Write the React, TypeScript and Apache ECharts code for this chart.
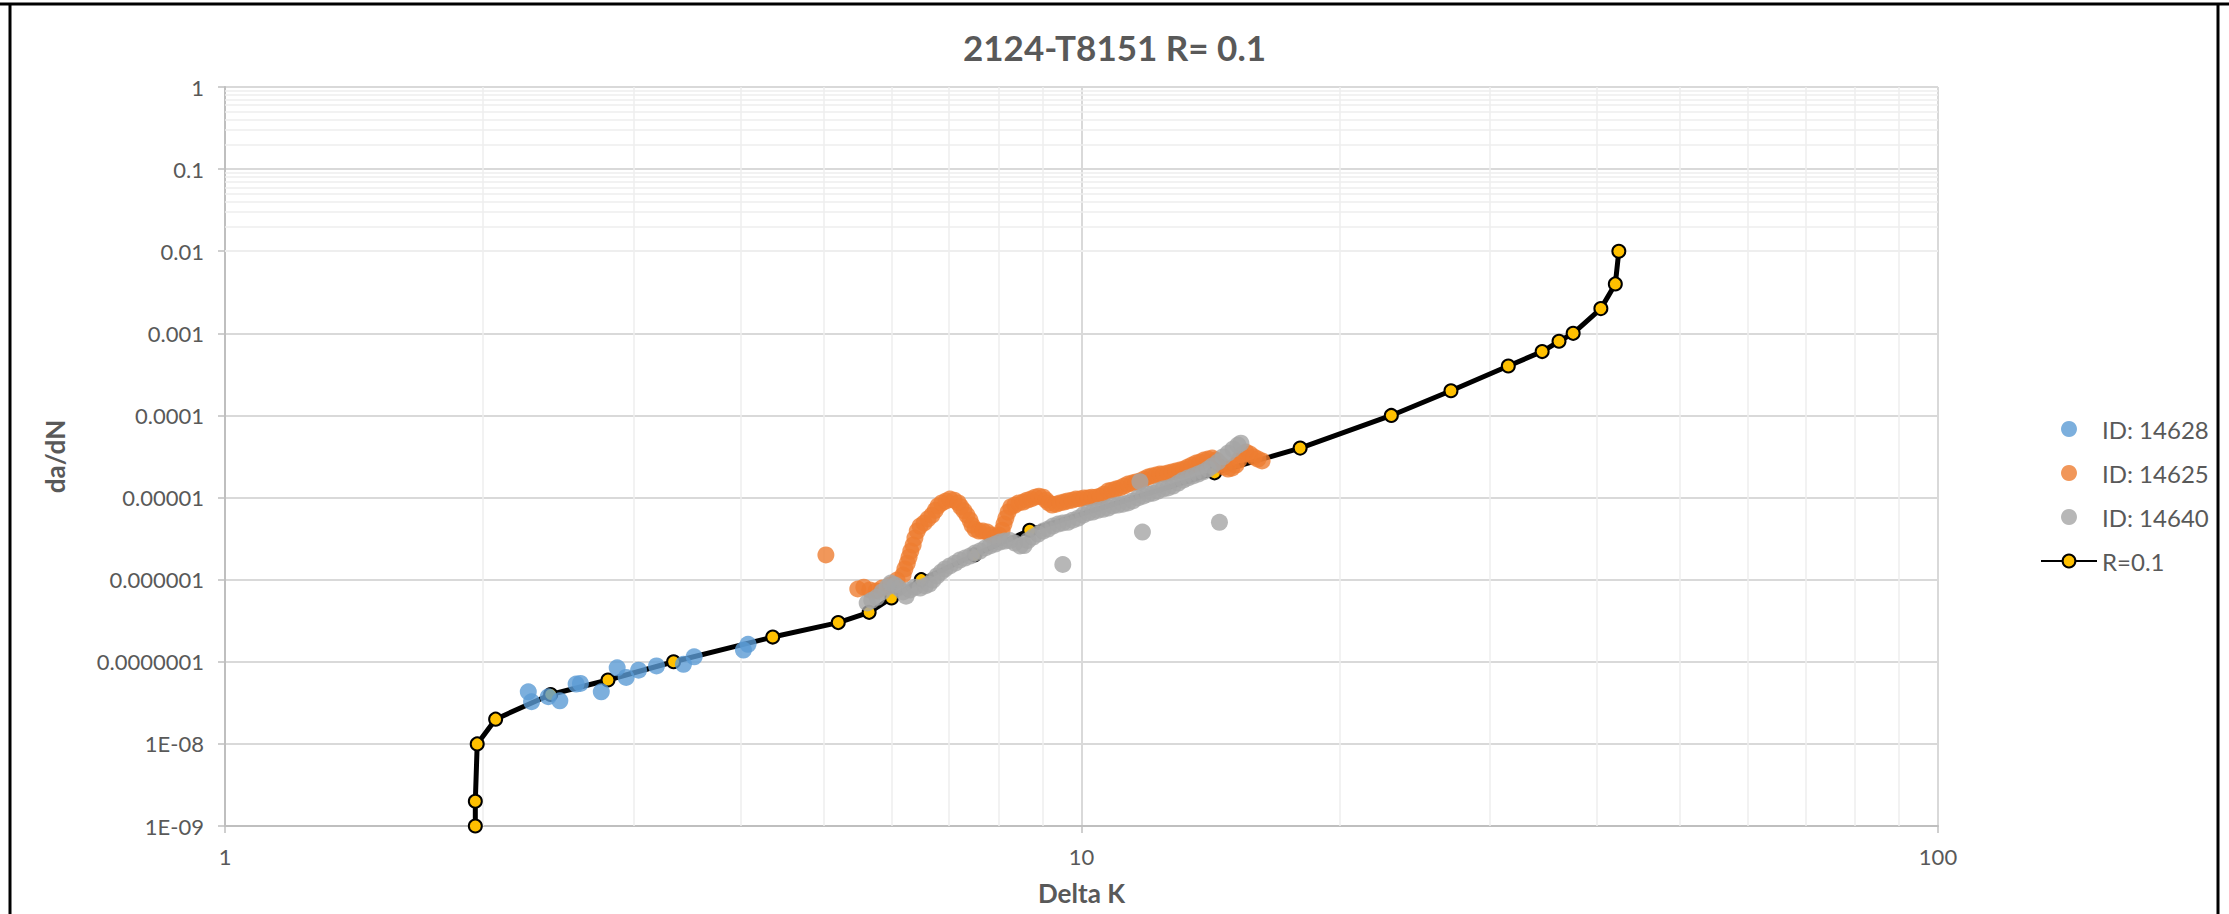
import React, { useEffect, useRef } from "react";
import * as echarts from "echarts";

const TITLE = "2124-T8151 R= 0.1";
const X_NAME = "Delta K";
const Y_NAME = "da/dN";
const Y_TICK_LABELS = ["1E-09", "1E-08", "0.0000001", "0.000001", "0.00001", "0.0001", "0.001", "0.01", "0.1", "1"];
const X_TICK_LABELS = ["1", "10", "100"];
const MINOR_MANTISSAS = [2, 3, 4, 5, 6, 7, 8, 9];
const X_DECADES = [1, 10];
const Y_DECADES = [1e-9, 1e-8, 1e-7, 1e-6, 1e-5, 1e-4, 1e-3, 1e-2, 1e-1];

const S_BLUE = "ID: 14628";
const S_ORANGE = "ID: 14625";
const S_GRAY = "ID: 14640";
const S_LINE = "R=0.1";

const blueData: [number, number][] = [
  [2.26, 4.3e-8], [2.28, 3.26e-8], [2.385, 3.75e-8], [2.46, 3.35e-8], [2.57, 5.35e-8],
  [2.6, 5.45e-8], [2.75, 4.3e-8], [2.87, 8.45e-8], [2.94, 6.45e-8], [3.04, 7.9e-8],
  [3.19, 8.9e-8], [3.43, 9.3e-8], [3.53, 1.15e-7], [4.03, 1.39e-7], [4.08, 1.63e-7],
];

const orangeData: [number, number][] = [
  [5.03, 2.0e-6],
  [5.48, 7.7e-7], [5.57, 8.1e-7], [5.66, 7.5e-7], [5.76, 7.3e-7], [5.85, 7.9e-7], [5.98, 8.6e-7],
  [6.09, 9.9e-7], [6.19, 1.14e-6], [6.22, 1.35e-6], [6.26, 1.59e-6], [6.29, 1.88e-6], [6.32, 2.23e-6],
  [6.36, 2.64e-6], [6.39, 3.21e-6], [6.43, 3.91e-6], [6.48, 4.5e-6], [6.55, 4.9e-6], [6.62, 5.5e-6],
  [6.69, 6.1e-6], [6.75, 7.0e-6], [6.8, 7.9e-6], [6.87, 8.6e-6], [6.95, 9.1e-6], [7.02, 9.6e-6],
  [7.1, 9.3e-6], [7.18, 8.6e-6], [7.23, 7.7e-6], [7.29, 6.9e-6], [7.35, 6.1e-6], [7.41, 5.3e-6],
  [7.45, 4.6e-6], [7.51, 4.1e-6], [7.59, 3.91e-6], [7.67, 3.91e-6], [7.76, 3.8e-6], [7.84, 3.5e-6],
  [7.93, 3.3e-6], [8.01, 3.5e-6], [8.08, 4.0e-6], [8.12, 4.75e-6], [8.16, 5.6e-6], [8.21, 6.65e-6],
  [8.27, 7.7e-6], [8.36, 8.1e-6], [8.45, 8.6e-6], [8.55, 8.8e-6], [8.64, 9.3e-6], [8.73, 9.6e-6],
  [8.83, 1.01e-5], [8.92, 1.04e-5], [9.02, 1.01e-5], [9.09, 9.3e-6], [9.16, 8.6e-6], [9.24, 8.1e-6],
  [9.34, 8.3e-6], [9.44, 8.6e-6], [9.54, 8.8e-6], [9.64, 9.1e-6], [9.75, 9.3e-6], [9.85, 9.6e-6],
  [9.96, 9.6e-6], [10.07, 9.9e-6], [10.18, 9.9e-6], [10.28, 1.01e-5], [10.4, 1.01e-5], [10.51, 1.04e-5],
  [10.62, 1.1e-5], [10.74, 1.2e-5], [10.85, 1.23e-5], [10.97, 1.27e-5], [11.09, 1.31e-5], [11.21, 1.38e-5],
  [11.33, 1.46e-5], [11.46, 1.5e-5], [11.58, 1.55e-5], [11.7, 1.59e-5], [11.83, 1.68e-5], [11.96, 1.78e-5],
  [12.08, 1.83e-5], [12.22, 1.88e-5], [12.35, 1.93e-5], [12.48, 1.93e-5], [12.62, 1.99e-5], [12.76, 2.05e-5],
  [12.89, 2.1e-5], [13.03, 2.16e-5], [13.17, 2.22e-5], [13.31, 2.35e-5], [13.46, 2.49e-5], [13.61, 2.63e-5],
  [13.75, 2.71e-5], [13.9, 2.86e-5], [14.05, 2.94e-5], [14.21, 3.03e-5], [14.36, 2.86e-5], [14.51, 2.56e-5],
  [14.67, 2.35e-5], [14.83, 2.22e-5], [14.98, 2.28e-5], [15.15, 2.49e-5], [15.27, 2.86e-5], [15.39, 3.3e-5],
  [15.56, 3.58e-5], [15.73, 3.39e-5], [15.9, 3.11e-5], [16.07, 2.94e-5], [16.25, 2.79e-5],
];

const grayData: [number, number][] = [
  [5.62, 5.2e-7], [5.69, 5.6e-7], [5.77, 6.1e-7], [5.85, 7.1e-7], [5.93, 8.1e-7], [5.99, 9.1e-7],
  [6.06, 8.6e-7], [6.12, 7.9e-7], [6.19, 7.1e-7], [6.24, 6.3e-7], [6.31, 7.5e-7], [6.39, 8.1e-7],
  [6.48, 7.9e-7], [6.57, 8.4e-7], [6.64, 8.8e-7], [6.71, 9.9e-7], [6.78, 1.11e-6], [6.86, 1.24e-6],
  [6.93, 1.35e-6], [7.02, 1.47e-6], [7.12, 1.59e-6], [7.21, 1.73e-6], [7.31, 1.83e-6], [7.41, 1.94e-6],
  [7.51, 2.11e-6], [7.61, 2.23e-6], [7.72, 2.43e-6], [7.82, 2.57e-6], [7.93, 2.71e-6], [8.03, 2.87e-6],
  [8.14, 2.95e-6], [8.25, 3.0e-6], [8.36, 2.79e-6], [8.48, 2.57e-6], [8.57, 2.6e-6], [8.66, 3.0e-6],
  [8.78, 3.3e-6], [8.9, 3.59e-6], [9.02, 3.91e-6], [9.14, 4.13e-6], [9.26, 4.5e-6], [9.39, 4.75e-6],
  [9.51, 4.9e-6], [9.64, 5.0e-6], [9.77, 5.3e-6], [9.91, 5.6e-6], [10.04, 6.1e-6], [10.18, 6.5e-6],
  [10.31, 6.65e-6], [10.45, 7.0e-6], [10.6, 7.2e-6], [10.74, 7.45e-6], [10.88, 7.9e-6], [11.03, 8.1e-6],
  [11.18, 8.3e-6], [11.33, 8.6e-6], [11.48, 9.1e-6], [11.64, 9.9e-6], [11.8, 1.04e-5], [11.96, 1.1e-5],
  [12.12, 1.13e-5], [12.28, 1.2e-5], [12.45, 1.27e-5], [12.62, 1.31e-5], [12.79, 1.38e-5], [12.97, 1.5e-5],
  [13.14, 1.63e-5], [13.31, 1.73e-5], [13.5, 1.83e-5], [13.68, 1.93e-5], [13.87, 2.05e-5], [14.05, 2.22e-5],
  [14.21, 2.42e-5], [14.43, 2.71e-5], [14.63, 3.12e-5], [14.83, 3.48e-5], [15.03, 3.9e-5], [15.23, 4.36e-5],
  [15.35, 4.6e-5],
  [9.51, 1.53e-6], [11.7, 1.56e-5], [11.78, 3.8e-6], [14.49, 5.0e-6],
];

const lineData: [number, number][] = [
  [1.96, 1e-9], [1.96, 2e-9], [1.97, 1e-8], [2.07, 2e-8], [2.4, 4e-8], [2.8, 6e-8], [3.34, 1e-7],
  [4.36, 2e-7], [5.2, 3e-7], [5.65, 4e-7], [6.0, 6e-7], [6.5, 1e-6], [7.5, 2e-6], [8.7, 4e-6],
  [14.3, 2e-5], [18, 4e-5], [23, 1e-4], [27, 2e-4], [31.5, 4e-4], [34.5, 6e-4], [36.1, 8e-4],
  [37.5, 1e-3], [40.4, 2e-3], [42, 4e-3], [42.4, 1e-2],
];

const FONT = 'Lato, "Open Sans", sans-serif';
const TEXT_COLOR = "#595959";

export default function App() {
  const ref = useRef<HTMLDivElement>(null);
  useEffect(() => {
    if (!ref.current) return;
    const chart = echarts.init(ref.current, null, { renderer: "svg" });

    const minorX: any[] = [];
    X_DECADES.forEach((d) => MINOR_MANTISSAS.forEach((m) => minorX.push({ xAxis: m * d })));
    const minorY: any[] = [];
    Y_DECADES.forEach((d) => MINOR_MANTISSAS.forEach((m) => minorY.push({ yAxis: m * d })));

    const scatterCommon = {
      type: "scatter",
      symbol: "circle",
      symbolSize: 17,
      z: 4,
      emphasis: { disabled: true },
    };

    chart.setOption({
      animation: false,
      backgroundColor: "#ffffff",
      textStyle: { fontFamily: FONT },
      title: {
        text: TITLE,
        left: "center",
        top: 24,
        textStyle: { color: TEXT_COLOR, fontSize: 35, fontWeight: "bold", fontFamily: FONT },
      },
      legend: {
        data: [S_BLUE, S_ORANGE, S_GRAY, S_LINE],
        orient: "vertical",
        left: 2035,
        top: 412,
        itemWidth: 56,
        itemHeight: 16,
        itemGap: 20,
        itemTextGap: 13,
        textStyle: { color: TEXT_COLOR, fontSize: 24, fontFamily: FONT },
      },
      grid: { left: 225, top: 87, width: 1713, height: 739, containLabel: false },
      xAxis: {
        type: "log",
        logBase: 10,
        min: 1,
        max: 100,
        splitNumber: 2,
        name: X_NAME,
        nameLocation: "middle",
        nameGap: 54,
        nameTextStyle: { color: TEXT_COLOR, fontSize: 26, fontWeight: "bold", fontFamily: FONT },
        axisLine: { lineStyle: { color: "#bfbfbf", width: 2 } },
        axisTick: { show: true, length: 7, lineStyle: { color: "#bfbfbf", width: 1.5 } },
        axisLabel: {
          color: TEXT_COLOR,
          fontSize: 22,
          margin: 19,
          fontFamily: FONT,
          formatter: (v: number) => X_TICK_LABELS[Math.round(Math.log10(v))] ?? "",
        },
        splitLine: { show: true, lineStyle: { color: "#d9d9d9", width: 2 } },
      },
      yAxis: {
        type: "log",
        logBase: 10,
        min: 1e-9,
        max: 1,
        splitNumber: 9,
        name: Y_NAME,
        nameLocation: "middle",
        nameGap: 157,
        nameTextStyle: { color: TEXT_COLOR, fontSize: 26, fontWeight: "bold", fontFamily: FONT },
        axisLine: { show: true, lineStyle: { color: "#bfbfbf", width: 2 } },
        axisTick: { show: true, length: 7, lineStyle: { color: "#bfbfbf", width: 1.5 } },
        axisLabel: {
          color: TEXT_COLOR,
          fontSize: 22,
          margin: 21,
          fontFamily: FONT,
          formatter: (v: number) => Y_TICK_LABELS[Math.round(Math.log10(v)) + 9] ?? "",
        },
        splitLine: { show: true, lineStyle: { color: "#d9d9d9", width: 2 } },
      },
      graphic: [
        {
          type: "polyline",
          shape: { points: [[10, 930], [10, 4], [0, 4], [2229, 4], [2218, 4], [2218, 930]] },
          style: { fill: "none", stroke: "#000000", lineWidth: 3 },
          silent: true,
          z: 100,
        },
      ],
      series: [
        {
          name: "_grid",
          type: "line",
          data: [],
          silent: true,
          markLine: {
            silent: true,
            z: 1,
            symbol: ["none", "none"],
            label: { show: false },
            lineStyle: { color: "#eeeeee", width: 1.5, type: "solid" },
            emphasis: { disabled: true },
            data: [...minorX, ...minorY],
          },
        },
        { ...scatterCommon, name: S_BLUE, data: blueData, itemStyle: { color: "#5B9BD5" } },
        { ...scatterCommon, name: S_ORANGE, data: orangeData, itemStyle: { color: "#ED7D31" } },
        { ...scatterCommon, name: S_GRAY, data: grayData, itemStyle: { color: "#A5A5A5" } },
        {
          name: S_LINE,
          type: "line",
          data: lineData,
          z: 3,
          symbol: "circle",
          symbolSize: 13,
          showSymbol: true,
          lineStyle: { color: "#000000", width: 5 },
          itemStyle: { color: "#FFC000", borderColor: "#000000", borderWidth: 2 },
          emphasis: { disabled: true },
        },
      ],
    });
    return () => chart.dispose();
  }, []);
  return (
    <div
      ref={ref}
      style={{ position: "fixed", left: 0, top: 0, width: 2229, height: 914 }}
    />
  );
}
